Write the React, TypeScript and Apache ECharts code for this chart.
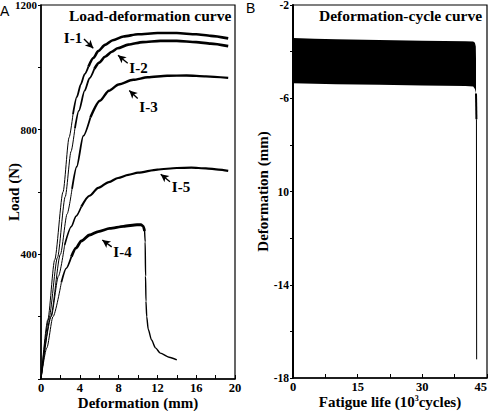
import React, { useEffect, useRef } from 'react';
import * as echarts from 'echarts';

// ---- Panel A: load vs deformation for specimens I-1 ... I-5 (deformation mm, load N)
const curveI1: [number, number][] = [
  [0, 0], [0.7, 190], [1.41, 382], [2.27, 600], [2.9, 775], [3.3, 850], [3.7, 905], [4.1, 945],
  [4.5, 978], [4.9, 1003], [5.4, 1030], [5.9, 1052], [6.6, 1072], [7.4, 1087], [8.5, 1099],
  [10, 1106], [12, 1110], [14, 1110], [16, 1106], [17.5, 1101], [19.3, 1093],
];
const curveI2: [number, number][] = [
  [0, 0], [0.82, 195], [1.7, 390], [2.5, 585], [3.1, 730], [3.5, 805], [3.9, 860], [4.5, 925],
  [5.0, 965], [5.5, 995], [6.0, 1015], [6.6, 1034], [7.3, 1050], [7.9, 1061], [9, 1073],
  [10.5, 1081], [12.3, 1085], [14, 1085], [16, 1081], [17.5, 1076], [19.3, 1068],
];
const curveI3: [number, number][] = [
  [0, 0], [1.0, 200], [2.0, 400], [2.7, 530], [3.2, 610], [3.68, 681], [4.36, 780], [5.1, 840],
  [6.08, 893], [7, 925], [8, 945], [9.5, 960], [11, 968], [13, 973], [15, 974], [17, 971], [19.3, 966],
];
const curveI5: [number, number][] = [
  [0, 0], [1.05, 200], [1.8, 330], [2.44, 430], [3.13, 489], [3.6, 522], [4.16, 553], [5, 588],
  [5.9, 613], [7, 632], [7.94, 645], [9, 655], [10, 662], [12, 672], [14, 677], [15.5, 678],
  [17, 676], [18.3, 672], [19.3, 668],
];
const curveI4: [number, number][] = [
  [0, 0], [0.6, 100], [1.24, 200], [2.1, 310], [2.6, 355], [3.13, 392], [3.6, 420], [4.16, 443],
  [5.0, 462], [5.9, 473], [7.1, 483], [8.5, 490], [9.9, 495], [10.3, 495], [10.55, 490],
  [10.68, 475], [10.74, 440], [10.78, 330], [10.82, 250], [10.9, 200], [11.05, 160], [11.4, 125],
  [11.8, 100], [12.3, 83], [13.2, 70], [14, 61],
];

// Curve labels: text anchor and arrow (from -> to) in data units
const specimenNames = ['I-1', 'I-2', 'I-3', 'I-5', 'I-4'];
const labelAnchors: [number, number][] = [[3.3, 1094], [10.05, 998], [11.08, 873], [14.43, 616], [8.4, 407]];
const arrowTails: [number, number][] = [[4.43, 1091], [8.94, 1013], [9.97, 900], [13.3, 633], [7.29, 424]];
const arrowHeads: [number, number][] = [[5.39, 1061], [7.94, 1039], [9.1, 926], [12.34, 657], [6.32, 446]];

// ---- Panel B: deformation envelope over fatigue life (10^3 cycles, mm)
const bandCycles = [0, 5, 10, 20, 30, 40, 41.8, 42.2, 42.4, 42.45];
const bandUpper = [-3.42, -3.45, -3.47, -3.5, -3.53, -3.56, -3.57, -3.62, -3.78, -4.3];
const bandLower = [-5.36, -5.38, -5.4, -5.42, -5.45, -5.47, -5.5, -5.6, -5.74, -5.9];
const failureCycles = [42.45, 42.55, 42.6];
const failureDeform = [-5.8, -6.9, -17.2];

const SERIF = '"Liberation Serif", "Times New Roman", serif';
const SANS = '"Liberation Sans", Arial, sans-serif';

// stroke widths along each curve: [fromIndex, toIndex, width]
const curveStrokes: Record<string, [number, number, number][]> = {
  'I-1': [[0, 5, 1], [5, 9, 1.8], [9, 20, 2.6]],
  'I-2': [[0, 5, 1], [5, 9, 1.8], [9, 20, 2.6]],
  'I-3': [[0, 4, 1], [4, 7, 1.8], [7, 16, 2.4]],
  'I-5': [[0, 3, 1], [3, 6, 1.6], [6, 18, 2.2]],
  'I-4': [[0, 3, 1], [3, 5, 1.8], [5, 15, 2.8], [15, 25, 1.4]],
};

function buildOption(): echarts.EChartsOption {
  const curves: Record<string, [number, number][]> = {
    'I-1': curveI1, 'I-2': curveI2, 'I-3': curveI3, 'I-5': curveI5, 'I-4': curveI4,
  };

  const series: any[] = [];
  specimenNames.forEach((name, k) => {
    const pts = curves[name];
    curveStrokes[name].forEach(([a, b, w], segIdx) => {
      const s: any = {
        type: 'line',
        name,
        xAxisIndex: 0,
        yAxisIndex: 0,
        data: pts.slice(a, b + 1),
        showSymbol: false,
        smooth: 0.25,
        smoothMonotone: 'x',
        lineStyle: { color: '#000', width: w },
        silent: true,
      };
      if (segIdx === 0) {
        s.markLine = {
          silent: true,
          symbol: ['none', 'arrow'],
          symbolSize: [6, 8],
          label: { show: false },
          lineStyle: { color: '#000', width: 1.4, type: 'solid' },
          data: [[{ coord: arrowTails[k] }, { coord: arrowHeads[k] }]],
        };
        s.markPoint = {
          silent: true,
          symbol: 'rect',
          symbolSize: 1,
          itemStyle: { color: 'rgba(0,0,0,0)' },
          label: {
            show: true,
            position: 'inside',
            formatter: '{b}',
            color: '#000',
            fontFamily: SERIF,
            fontWeight: 'bold',
            fontSize: 15,
          },
          data: [{ name, coord: labelAnchors[k] }],
        };
      }
      series.push(s);
    });
  });

  // fatigue envelope drawn as a filled polygon through the axis scales
  series.push({
    type: 'custom',
    xAxisIndex: 1,
    yAxisIndex: 1,
    silent: true,
    data: [[bandCycles[0], bandUpper[0]]],
    renderItem: (_params: any, api: any) => {
      const points: number[][] = [];
      for (let i = 0; i < bandCycles.length; i++) points.push(api.coord([bandCycles[i], bandUpper[i]]));
      for (let i = bandCycles.length - 1; i >= 0; i--) points.push(api.coord([bandCycles[i], bandLower[i]]));
      return { type: 'polygon', shape: { points }, style: { fill: '#000' } };
    },
  });
  series.push({
    type: 'line',
    xAxisIndex: 1,
    yAxisIndex: 1,
    showSymbol: false,
    silent: true,
    data: [[failureCycles[0], failureDeform[0]], [failureCycles[1], failureDeform[1]]],
    lineStyle: { color: '#000', width: 2 },
  });
  series.push({
    type: 'line',
    xAxisIndex: 1,
    yAxisIndex: 1,
    showSymbol: false,
    silent: true,
    data: [[failureCycles[1], failureDeform[1]], [failureCycles[2], failureDeform[2]]],
    lineStyle: { color: '#000', width: 1 },
  });

  const tickLabel = (size: number) => ({
    color: '#000',
    fontFamily: SERIF,
    fontWeight: 'bold' as const,
    fontSize: size,
  });
  const axisName = {
    color: '#000',
    fontFamily: SERIF,
    fontWeight: 'bold' as const,
    fontSize: 15,
  };
  const line = { show: true, lineStyle: { color: '#000', width: 1.5 } };

  return {
    animation: false,
    backgroundColor: '#fff',
    grid: [
      {
        left: 41, top: 5, width: 194, height: 374, show: true, borderColor: '#000', borderWidth: 1.2,
        outerBoundsMode: 'none', containLabel: false,
      } as any,
      {
        left: 293, top: 5, width: 194, height: 373, show: true, borderColor: '#000', borderWidth: 1.2,
        outerBoundsMode: 'none', containLabel: false,
      } as any,
    ],
    xAxis: [
      {
        type: 'value', gridIndex: 0, min: 0, max: 20, interval: 2,
        name: 'Deformation (mm)', nameLocation: 'middle', nameGap: 16, nameMoveOverlap: false,
        nameTextStyle: axisName,
        axisLine: line,
        axisTick: { show: true, inside: true, length: 4, lineStyle: { color: '#000', width: 1 } },
        axisLabel: { ...tickLabel(12.5), margin: 2, formatter: (v: number) => (v % 4 === 0 ? String(v) : '') },
        splitLine: { show: false },
      } as any,
      {
        type: 'value', gridIndex: 1, min: 0, max: 45, interval: 7.5,
        name: 'Fatigue life (10{s|3}cycles)', nameLocation: 'middle', nameGap: 16, nameMoveOverlap: false,
        nameTextStyle: { ...axisName, rich: { s: { ...axisName, fontSize: 8, verticalAlign: 'top', padding: [0, 0, 6, 0] } } },
        axisLine: line,
        axisTick: { show: true, inside: true, length: 4, lineStyle: { color: '#000', width: 1 } },
        axisLabel: {
          ...tickLabel(12.5), margin: 2, alignMaxLabel: 'right',
          formatter: (v: number) => (v % 15 === 0 ? String(v) : ''),
        },
        splitLine: { show: false },
      } as any,
    ],
    yAxis: [
      {
        type: 'value', gridIndex: 0, min: 0, max: 1200, interval: 200,
        name: 'Load (N)', nameLocation: 'middle', nameGap: 20, nameMoveOverlap: false,
        nameTextStyle: axisName,
        axisLine: line,
        axisTick: { show: true, inside: false, length: 3, lineStyle: { color: '#000', width: 1 } },
        axisLabel: { ...tickLabel(11), margin: 4, formatter: (v: number) => (v > 0 && v % 400 === 0 ? String(v) : '') },
        splitLine: { show: false },
      } as any,
      {
        type: 'value', gridIndex: 1, min: -18, max: -2, interval: 2,
        name: 'Deformation (mm)', nameLocation: 'middle', nameGap: 23, nameMoveOverlap: false,
        nameTextStyle: axisName,
        axisLine: { show: true, lineStyle: { color: '#000', width: 2 } },
        axisTick: { show: true, inside: false, length: 3, lineStyle: { color: '#000', width: 1 } },
        axisLabel: {
          ...tickLabel(11.5), margin: 4,
          formatter: (v: number) => ((v + 2) % 4 === 0 ? (v === -10 ? '10' : String(v)) : ''),
        },
        splitLine: { show: false },
      } as any,
    ],
    graphic: [
      { type: 'text', left: 69, top: 7, style: { text: 'Load-deformation curve', fill: '#000', font: `bold 15.5px ${SERIF}` } },
      { type: 'text', left: 319, top: 7, style: { text: 'Deformation-cycle curve', fill: '#000', font: `bold 15.5px ${SERIF}` } },
      { type: 'text', left: 0, top: 4, style: { text: 'A', fill: '#000', font: `14px ${SANS}` } },
      { type: 'text', left: 246, top: 1, style: { text: 'B', fill: '#000', font: `14px ${SANS}` } },
    ],
    series,
  };
}

export default function App() {
  const ref = useRef<HTMLDivElement>(null);
  useEffect(() => {
    if (!ref.current) return;
    const chart = echarts.init(ref.current, undefined, { renderer: 'svg' });
    chart.setOption(buildOption());
    return () => chart.dispose();
  }, []);
  return <div ref={ref} style={{ position: 'fixed', left: 0, top: 0, width: 488, height: 411 }} />;
}
